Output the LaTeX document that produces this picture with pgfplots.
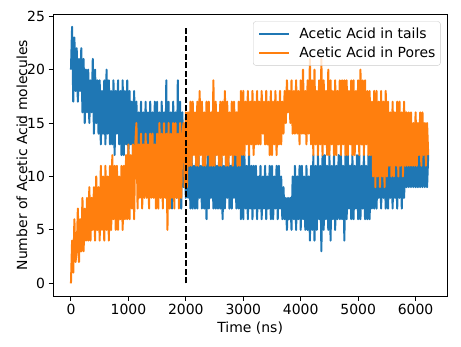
\documentclass[border=0pt]{standalone}
\usepackage{fontspec}
\setmainfont{DejaVu Sans}
\usepackage{pgfplots}
\usepackage{pgfplotstable}
\pgfplotsset{compat=1.18}
\definecolor{mplblue}{HTML}{1F77B4}
\definecolor{mplorange}{HTML}{FF7F0E}
\definecolor{legframe}{HTML}{CCCCCC}
\pgfplotstableread{
t b o
0 20 0
20 24 4
40 17 1
60 23 6
80 18 2
100 22 3
120 17 7
140 21 2
160 18 6
180 22 3
200 16 8
220 21 3
240 15 7
260 20 4
280 16 8
300 20 4
320 15 9
340 19 4
360 16 8
380 21 5
400 14 9
420 20 4
440 15 10
460 19 5
480 14 9
500 19 4
520 13 11
540 18 5
560 14 10
580 19 4
600 13 11
620 20 5
640 14 10
660 19 4
680 13 11
700 18 5
720 13 12
740 19 6
760 12 11
780 18 5
800 14 11
820 19 5
840 13 10
860 18 6
880 12 11
900 19 5
920 12 11
940 18 6
960 13 12
980 19 6
1000 12 13
1020 18 6
1040 13 12
1060 17 7
1080 12 13
1100 18 6
1120 12 13
1140 17 15
1160 11 7
1180 16 13
1200 11 8
1220 17 14
1240 10 7
1260 16 13
1280 11 8
1300 17 14
1320 10 8
1340 16 13
1360 11 7
1380 17 14
1400 10 8
1420 16 14
1440 11 8
1460 17 13
1480 9 7
1500 17 14
1520 8 7
1540 16 15
1560 9 8
1580 17 14
1600 8 7
1620 16 15
1640 9 8
1660 19 14
1680 7 5
1700 17 15
1720 8 7
1740 16 14
1760 7 8
1780 17 15
1800 9 7
1820 16 15
1840 8 8
1860 19 14
1880 8 7
1900 17 15
1920 7 8
1940 16 14
1960 9 15
1980 12 9
2000 8 16
2020 12 9
2040 8 16
2060 12 11
2080 7 17
2100 12 11
2120 7 17
2140 11 12
2160 7 16
2180 12 11
2200 7 17
2220 12 11
2240 8 18
2260 11 12
2280 7 17
2300 12 11
2320 7 16
2340 11 11
2360 6 17
2380 12 12
2400 7 17
2420 12 11
2440 8 16
2460 12 11
2480 7 19
2500 12 11
2520 7 17
2540 11 12
2560 7 16
2580 12 11
2600 7 17
2620 12 11
2640 6 17
2660 11 12
2680 7 18
2700 12 11
2720 8 17
2740 12 11
2760 7 16
2780 11 12
2800 7 17
2820 12 11
2840 8 17
2860 12 12
2880 7 16
2900 12 11
2920 7 17
2940 11 11
2960 6 18
2980 12 12
3000 6 18
3020 12 12
3040 7 17
3060 11 13
3080 6 18
3100 12 12
3120 7 17
3140 11 13
3160 6 18
3180 11 12
3200 7 17
3220 11 13
3240 6 18
3260 10 13
3280 7 17
3300 11 13
3320 6 18
3340 10 14
3360 7 17
3380 11 13
3400 6 18
3420 10 13
3440 7 17
3460 11 12
3480 6 18
3500 11 12
3520 6 17
3540 10 13
3560 7 18
3580 11 12
3600 6 17
3620 11 13
3640 7 18
3660 10 13
3680 6 17
3700 9 14
3720 6 18
3740 8 15
3760 5 19
3780 8 16
3800 6 18
3820 8 15
3840 5 19
3860 10 14
3880 6 18
3900 11 14
3920 5 19
3940 10 14
3960 6 18
3980 11 13
4000 5 19
4020 11 14
4040 6 20
4060 10 14
4080 5 18
4100 11 13
4120 5 19
4140 10 14
4160 4 21
4180 11 13
4200 5 19
4220 12 12
4240 4 20
4260 11 13
4280 5 18
4300 12 12
4320 6 19
4340 11 13
4360 3 21
4380 12 12
4400 5 19
4420 12 13
4440 6 18
4460 11 12
4480 5 20
4500 12 12
4520 4 19
4540 11 13
4560 6 18
4580 12 12
4600 5 19
4620 11 12
4640 6 18
4660 12 13
4680 6 19
4700 12 12
4720 6 19
4740 11 13
4760 4 19
4780 12 12
4800 6 19
4820 12 12
4840 7 18
4860 11 13
4880 6 19
4900 12 12
4920 6 19
4940 11 12
4960 7 18
4980 12 13
5000 6 19
5020 12 12
5040 6 20
5060 11 13
5080 7 19
5100 12 12
5120 6 19
5140 11 13
5160 6 18
5180 12 12
5200 6 18
5220 12 12
5240 7 17
5260 11 10
5280 7 18
5300 12 9
5320 7 18
5340 11 10
5360 8 17
5380 12 9
5400 7 18
5420 12 10
5440 8 17
5460 11 9
5480 7 18
5500 12 10
5520 7 17
5540 11 11
5560 8 16
5580 12 10
5600 7 17
5620 12 10
5640 8 16
5660 11 11
5680 7 17
5700 12 10
5720 8 17
5740 11 11
5760 7 16
5780 12 10
5800 8 17
5820 12 11
5840 9 16
5860 12 11
5880 9 16
5900 12 11
5920 9 16
5940 12 11
5960 9 15
5980 12 11
6000 9 16
6020 12 11
6040 9 15
6060 13 12
6080 9 16
6100 12 11
6120 9 16
6140 12 12
6160 9 15
6180 12 11
6200 9 15
6220 12 12
}\data

\begin{document}
\begin{tikzpicture}
\begin{axis}[
  name=ax,
  scale only axis,
  width=394bp, height=282bp,
  xmin=-312, xmax=6552, ymin=-1.2, ymax=25.2,
  xtick={0,1000,2000,3000,4000,5000,6000},
  ytick={0,5,10,15,20,25},
  tick align=outside,
  tick pos=left,
  major tick length=4.5bp,
  every tick/.style={black, line width=1bp},
  axis line style={line width=1bp},
  tick label style={font=\fontsize{14}{16}\selectfont},
  label style={font=\fontsize{14}{16}\selectfont},
  /pgf/number format/assume math mode=true,
  /pgf/number format/1000 sep={},
  xlabel={Time (ns)},
  ylabel={Number of Acetic Acid molecules},
  ylabel shift=-7bp,
  legend cell align=left,
  legend image code/.code={\path[draw=none, fill=none] (0bp,-9.7bp) rectangle (40bp,9.7bp);\draw[#1, line width=2bp] (0bp,0bp) -- (30bp,0bp);},
  legend style={at={(0.983,0.974)}, anchor=north east, draw=legframe,
    rounded corners=2.5bp, fill=white, fill opacity=0.8, text opacity=1,
    font=\fontsize{14}{16}\selectfont, inner xsep=5bp, inner ysep=2.5bp, row sep=0pt,
    nodes={inner sep=0pt}},
]
\addplot[mplblue, line width=2bp, line join=round] table[x=t, y=b]{\data};
\addlegendentry{Acetic Acid in tails}
\addplot[mplorange, line width=2bp, line join=round] table[x=t, y=o]{\data};
\addlegendentry{Acetic Acid in Pores}
\addplot[black, line width=2bp, dash pattern=on 6bp off 2.6bp, forget plot] coordinates {(2000,0) (2000,24)};
\end{axis}
\pgfresetboundingbox
\path[use as bounding box] ([xshift=-53bp,yshift=-50bp]ax.south west) rectangle ([xshift=13.7bp,yshift=14bp]ax.north east);
\end{tikzpicture}
\end{document}
